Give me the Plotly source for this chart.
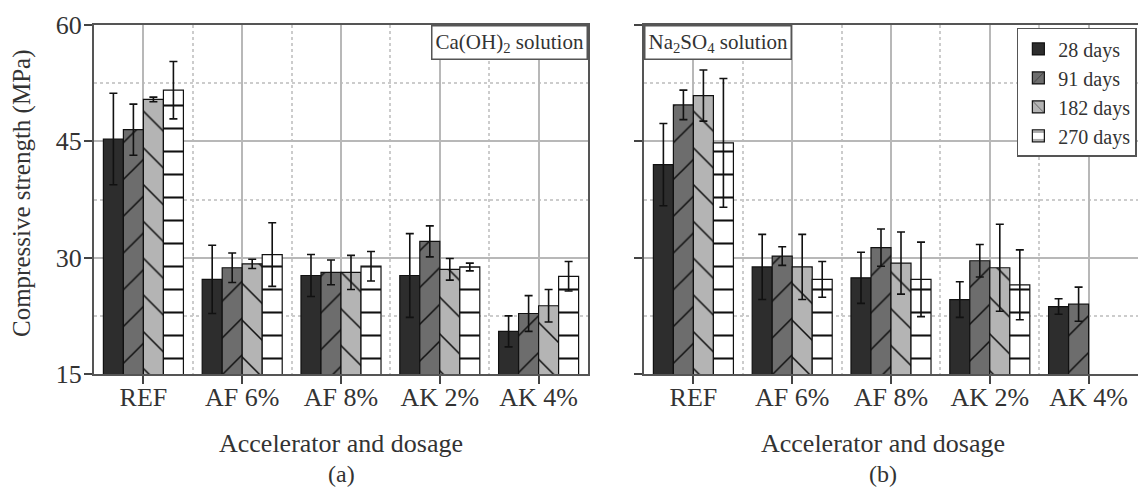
import plotly.graph_objects as go

categories = ["REF", "AF 6%", "AF 8%", "AK 2%", "AK 4%"]
series_names = ["28 days", "91 days", "182 days", "270 days"]

# Panel (a): Ca(OH)2 solution
caoh_28 = [45.3, 27.2, 27.7, 27.7, 20.5]
caoh_28_err = [5.9, 4.4, 2.7, 5.4, 2.0]
caoh_91 = [46.5, 28.7, 28.1, 32.1, 22.8]
caoh_91_err = [3.3, 1.9, 1.6, 2.0, 2.3]
caoh_182 = [50.4, 29.2, 28.1, 28.5, 23.8]
caoh_182_err = [0.3, 0.6, 2.2, 1.4, 2.1]
caoh_270 = [51.6, 30.4, 28.9, 28.8, 27.6]
caoh_270_err = [3.7, 4.1, 1.9, 0.5, 1.9]

# Panel (b): Na2SO4 solution
naso_28 = [42.0, 28.8, 27.4, 24.6, 23.7]
naso_28_err = [5.3, 4.2, 3.3, 2.3, 1.0]
naso_91 = [49.7, 30.2, 31.3, 29.6, 24.0]
naso_91_err = [1.9, 1.2, 2.4, 2.1, 2.2]
naso_182 = [50.9, 28.8, 29.3, 28.7, None]
naso_182_err = [3.3, 4.2, 4.0, 5.6, None]
naso_270 = [44.8, 27.2, 27.2, 26.5, None]
naso_270_err = [8.3, 2.3, 4.8, 4.5, None]

y_ticks = [15, 30, 45, 60]
y_minor = [22.5, 37.5, 52.5]

styles = [
    dict(color="#2d2d2d", shape="", size=8, solidity=0.1),
    dict(color="#6d6d6d", shape="/", size=26, solidity=0.06),
    dict(color="#b4b4b4", shape="\\", size=26, solidity=0.06),
    dict(color="#ffffff", shape="-", size=23, solidity=0.09),
]

FONT = "Liberation Serif"
xs = list(range(len(categories)))

fig = go.Figure()


def add_panel(values, errs, xa, ya, show):
    for name, v, e, st in zip(series_names, values, errs, styles):
        fig.add_trace(go.Bar(
            x=xs, y=v, name=name, xaxis=xa, yaxis=ya,
            showlegend=show, legendgroup=name,
            marker=dict(
                color=st["color"],
                line=dict(color="#111111", width=1.2),
                pattern=dict(shape=st["shape"], size=st["size"], solidity=st["solidity"],
                             fgcolor="#111111", fgopacity=1, fillmode="overlay"),
            ),
            error_y=dict(type="data", array=e, visible=True, color="#111111",
                         thickness=1.6, width=4),
        ))


add_panel([caoh_28, caoh_91, caoh_182, caoh_270],
          [caoh_28_err, caoh_91_err, caoh_182_err, caoh_270_err], "x", "y", False)
add_panel([naso_28, naso_91, naso_182, naso_270],
          [naso_28_err, naso_91_err, naso_182_err, naso_270_err], "x2", "y2", True)

W, H = 1138, 488
top = 1 - 25 / H
bot = 1 - 374 / H

common_x = dict(
    range=[-0.5, 4.5], tickmode="array", tickvals=xs, ticktext=categories,
    showgrid=True, gridcolor="#b8b8b8", gridwidth=1.5,
    minor=dict(tickmode="array", tickvals=[i + 0.5 for i in xs[:-1]], showgrid=True,
               gridcolor="#cccccc", griddash="dot", gridwidth=1.5, ticks=""),
    ticks="outside", ticklen=8, tickcolor="#444", tickwidth=1.5,
    ticklabelstandoff=-9,
    showline=True, mirror=True, linecolor="#555555", linewidth=2,
    tickfont=dict(family=FONT, size=26, color="#333333"),
    zeroline=False, fixedrange=True, automargin=False,
)
common_y = dict(
    range=[15, 60], tickmode="array", tickvals=y_ticks,
    showgrid=True, gridcolor="#b8b8b8", gridwidth=1.5,
    minor=dict(tickmode="array", tickvals=y_minor, showgrid=True,
               gridcolor="#cccccc", griddash="dot", gridwidth=1.5, ticks=""),
    ticks="outside", ticklen=8, tickcolor="#444", tickwidth=1.5,
    ticklabelstandoff=-3,
    showline=True, mirror=True, linecolor="#555555", linewidth=2,
    tickfont=dict(family=FONT, size=26, color="#333333"),
    zeroline=False, fixedrange=True, automargin=False,
)


def txt(text, x, y, size=26, xanchor="center", yanchor="middle", **kw):
    return dict(text=text, xref="paper", yref="paper", x=x / W, y=1 - y / H,
                xanchor=xanchor, yanchor=yanchor, showarrow=False,
                font=dict(family=FONT, size=size, color="#333333"), **kw)


fig.update_layout(
    width=W, height=H,
    margin=dict(l=0, r=0, t=0, b=0, autoexpand=False),
    paper_bgcolor="white", plot_bgcolor="white",
    barmode="group", bargap=0.19, bargroupgap=0,
    font=dict(family=FONT, color="#333333"),
    xaxis=dict(common_x, domain=[94 / W, 588 / W], anchor="y"),
    yaxis=dict(common_y, domain=[bot, top], anchor="x"),
    xaxis2=dict(common_x, domain=[644 / W, 1.0], anchor="y2"),
    yaxis2=dict(common_y, domain=[bot, top], anchor="x2", showticklabels=False),
    legend=dict(
        x=0.999, xanchor="right", y=top - 0.006, yanchor="top",
        bgcolor="white", bordercolor="#555555", borderwidth=1.5,
        font=dict(family=FONT, size=20, color="#333333"),
        tracegroupgap=0, itemwidth=30,
    ),
    annotations=[
        txt("Ca(OH)<sub>2</sub> solution", 588, 25, size=21, xanchor="right", yanchor="top",
            bordercolor="#555555", borderwidth=1.5, borderpad=3, bgcolor="white"),
        txt("Na<sub>2</sub>SO<sub>4</sub> solution", 644, 25, size=21, xanchor="left",
            yanchor="top", bordercolor="#555555", borderwidth=1.5, borderpad=3,
            bgcolor="white"),
        txt("Compressive strength (MPa)", 22, 194, size=25, textangle=-90),
        txt("Accelerator and dosage", 341, 443),
        txt("(a)", 341, 474, size=24),
        txt("Accelerator and dosage", 883, 443),
        txt("(b)", 883, 474, size=24),
    ],
)

fig.write_html("out.html")
